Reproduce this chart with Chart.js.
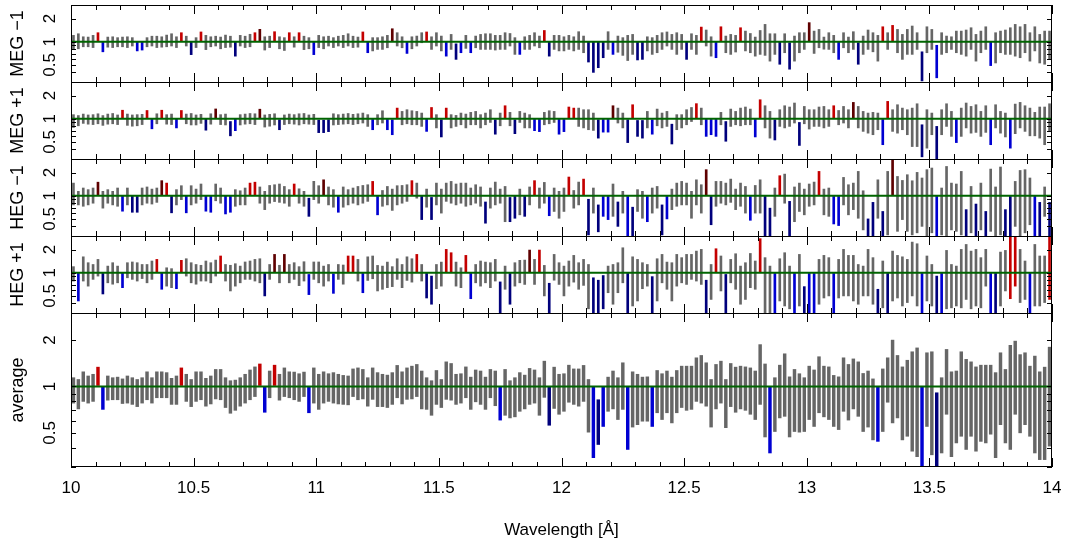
<!DOCTYPE html>
<html>
<head>
  <meta charset="utf-8">
  <title>Order ratios 10-14 A</title>
  <script src="https://cdn.jsdelivr.net/npm/chart.js@4.4.0/dist/chart.umd.min.js"></script>
  <style>
    body {
      margin: 0;
      background: #fff;
    }

    #wrap {
      position: relative;
      width: 1067px;
      height: 546px;
    }

    canvas {
      position: absolute;
      left: 0;
    }
  </style>
</head>
<body>
  <div id="wrap">
    <canvas id="megM1" width="1067" height="77" style="top:5px"></canvas>
    <canvas id="megP1" width="1067" height="77" style="top:82px"></canvas>
    <canvas id="hegM1" width="1067" height="77" style="top:159px"></canvas>
    <canvas id="hegP1" width="1067" height="77" style="top:236px"></canvas>
    <canvas id="avg" width="1067" height="233" style="top:313px"></canvas>
  </div>

  <script>
    // bin centres in Angstrom
    const wave = [
      10.01, 10.03, 10.05, 10.07, 10.09, 10.11, 10.13, 10.15, 10.17, 10.19, 10.21, 10.23, 10.25, 10.27, 10.29, 10.31, 10.33, 10.35, 10.37, 10.39, 10.41, 10.43, 10.45, 10.47, 10.49,
      10.51, 10.53, 10.55, 10.57, 10.59, 10.61, 10.63, 10.65, 10.67, 10.69, 10.71, 10.73, 10.75, 10.77, 10.79, 10.81, 10.83, 10.85, 10.87, 10.89, 10.91, 10.93, 10.95, 10.97, 10.99,
      11.01, 11.03, 11.05, 11.07, 11.09, 11.11, 11.13, 11.15, 11.17, 11.19, 11.21, 11.23, 11.25, 11.27, 11.29, 11.31, 11.33, 11.35, 11.37, 11.39, 11.41, 11.43, 11.45, 11.47, 11.49,
      11.51, 11.53, 11.55, 11.57, 11.59, 11.61, 11.63, 11.65, 11.67, 11.69, 11.71, 11.73, 11.75, 11.77, 11.79, 11.81, 11.83, 11.85, 11.87, 11.89, 11.91, 11.93, 11.95, 11.97, 11.99,
      12.01, 12.03, 12.05, 12.07, 12.09, 12.11, 12.13, 12.15, 12.17, 12.19, 12.21, 12.23, 12.25, 12.27, 12.29, 12.31, 12.33, 12.35, 12.37, 12.39, 12.41, 12.43, 12.45, 12.47, 12.49,
      12.51, 12.53, 12.55, 12.57, 12.59, 12.61, 12.63, 12.65, 12.67, 12.69, 12.71, 12.73, 12.75, 12.77, 12.79, 12.81, 12.83, 12.85, 12.87, 12.89, 12.91, 12.93, 12.95, 12.97, 12.99,
      13.01, 13.03, 13.05, 13.07, 13.09, 13.11, 13.13, 13.15, 13.17, 13.19, 13.21, 13.23, 13.25, 13.27, 13.29, 13.31, 13.33, 13.35, 13.37, 13.39, 13.41, 13.43, 13.45, 13.47, 13.49,
      13.51, 13.53, 13.55, 13.57, 13.59, 13.61, 13.63, 13.65, 13.67, 13.69, 13.71, 13.73, 13.75, 13.77, 13.79, 13.81, 13.83, 13.85, 13.87, 13.89, 13.91, 13.93, 13.95, 13.97, 13.99
    ];

    // MEG -1 ratio, lower / upper end of each bar
    const megM1Hi = [
      1.21, 1.27, 1.16, 1.15, 1.21, 1.31, 0.99, 1.15, 1.16, 1.13,
      1.15, 1.16, 1.13, 0.99, 0.99, 1.13, 1.18, 1.18, 1.16, 1.22,
      1.27, 1.16, 1.31, 1.18, 0.99, 1.13, 1.34, 1.21, 1.16, 1.18,
      1.15, 1.22, 1.18, 0.99, 1.21, 1.18, 1.25, 1.31, 1.45, 1.16,
      1.18, 1.35, 1.16, 1.13, 1.31, 1.16, 1.31, 1.18, 1.13, 0.99,
      1.21, 1.16, 1.18, 1.13, 1.18, 1.21, 1.27, 1.18, 1.15, 1.34,
      0.99, 1.13, 1.13, 1.16, 1.21, 1.475, 1.31, 1.16, 0.99, 1.16,
      1.185, 1.31, 1.34, 1.16, 1.31, 1.185, 0.99, 1.245, 0.94, 0.99,
      1.21, 0.99, 1.185, 1.245, 1.27, 1.27, 1.21, 1.21, 1.31, 1.28,
      1.13, 0.99, 1.16, 1.21, 1.31, 1.185, 1.40, 0.99, 1.21, 1.21,
      1.16, 1.21, 1.16, 1.35, 1.185, 0.99, 0.99, 0.99, 0.99, 1.35,
      0.99, 1.185, 1.13, 1.21, 1.245, 0.99, 0.99, 1.16, 1.13, 1.21,
      1.31, 1.34, 1.245, 1.31, 1.245, 0.99, 1.27, 1.21, 1.55, 1.42,
      1.16, 0.99, 1.565, 1.185, 1.245, 1.21, 1.52, 1.375, 1.28, 1.15,
      1.40, 1.68, 1.27, 1.27, 0.99, 1.27, 0.97, 1.185, 1.31, 1.31,
      1.77, 1.375, 1.445, 1.15, 1.31, 1.21, 0.99, 1.31, 1.15, 1.35,
      0.97, 1.185, 1.42, 1.31, 1.21, 1.565, 1.31, 1.63, 1.445, 1.245,
      1.445, 1.60, 1.31, 0.74, 1.565, 1.445, 0.90, 1.31, 1.185, 1.16,
      1.375, 1.375, 1.42, 1.52, 1.245, 1.375, 1.565, 0.99, 1.31, 1.375,
      1.42, 1.52, 1.68, 1.565, 1.68, 1.31, 1.565, 1.245, 1.375, 1.375
    ];
    const megM1Lo = [
      0.81, 0.81, 0.86, 0.86, 0.84, 1.01, 0.74, 0.85, 0.84, 0.86,
      0.86, 0.84, 0.88, 0.76, 0.78, 0.86, 0.88, 0.84, 0.85, 0.86,
      0.88, 0.84, 1.02, 0.88, 0.68, 0.84, 1.02, 0.79, 0.86, 0.88,
      0.81, 0.84, 0.85, 0.65, 0.88, 0.84, 0.86, 1.02, 1.02, 0.78,
      0.84, 1.02, 0.81, 0.77, 1.02, 0.85, 1.02, 0.79, 0.81, 0.68,
      0.84, 0.81, 0.88, 0.84, 0.88, 0.84, 0.88, 0.84, 0.85, 1.02,
      0.72, 0.76, 0.795, 0.795, 0.835, 1.02, 0.88, 0.835, 0.705, 0.81,
      0.88, 0.97, 1.02, 0.795, 0.88, 0.76, 0.65, 0.795, 0.59, 0.72,
      0.82, 0.72, 0.835, 0.795, 0.795, 0.795, 0.78, 0.795, 0.795, 0.88,
      0.685, 0.685, 0.795, 0.795, 0.88, 0.835, 1.02, 0.65, 0.795, 0.76,
      0.76, 0.795, 0.76, 0.795, 0.72, 0.545, 0.40, 0.46, 0.62, 0.795,
      0.685, 0.73, 0.665, 0.57, 0.685, 0.58, 0.59, 0.76, 0.685, 0.72,
      0.795, 0.88, 0.795, 0.685, 0.795, 0.59, 0.795, 0.685, 1.02, 0.88,
      0.65, 0.62, 1.02, 0.72, 0.685, 0.735, 1.02, 0.76, 0.72, 0.65,
      0.685, 0.665, 0.56, 0.685, 0.51, 0.72, 0.44, 0.56, 0.72, 0.795,
      1.02, 0.705, 0.835, 0.80, 0.795, 0.72, 0.59, 0.835, 0.72, 0.795,
      0.51, 0.685, 0.795, 0.74, 0.56, 1.02, 0.795, 1.02, 0.72, 0.59,
      0.685, 0.685, 0.795, 0.31, 0.72, 0.795, 0.34, 0.685, 0.72, 0.795,
      0.72, 0.685, 0.65, 0.795, 0.56, 0.72, 0.795, 0.49, 0.53, 0.72,
      0.685, 0.685, 0.65, 0.62, 0.72, 0.56, 0.76, 0.53, 0.51, 0.59
    ];
    const megM1Red = [5, 22, 26, 37, 41, 44, 46, 59, 72, 96, 128, 132, 136, 165, 167];
    const megM1DarkRed = [38, 65, 150];
    const megM1Blue = [6, 13, 14, 49, 60, 68, 76, 79, 81, 91, 110, 131, 156, 176, 187];
    const megM1DarkBlue = [24, 33, 78, 97, 105, 106, 107, 108, 115, 116, 125, 144, 146, 160, 173];

    // MEG +1
    const megP1Hi = [
      1.13, 1.10, 1.15, 1.12, 1.13, 1.16, 1.10, 1.15, 1.17, 1.12,
      1.29, 1.15, 1.12, 1.13, 1.14, 1.28, 0.99, 1.16, 1.29, 1.13,
      1.15, 0.99, 1.28, 1.15, 1.17, 1.12, 1.14, 0.99, 1.16, 1.34,
      1.13, 1.15, 0.92, 0.99, 1.13, 1.15, 1.17, 1.16, 1.33, 1.12,
      1.14, 1.16, 0.97, 1.12, 1.15, 1.13, 1.16, 1.17, 1.12, 1.14,
      0.96, 0.96, 0.97, 1.16, 1.13, 1.15, 1.17, 1.14, 1.16, 1.185,
      1.13, 0.98, 1.13, 1.27, 0.98, 0.97, 1.375, 1.245, 1.31, 1.27,
      1.245, 1.185, 0.98, 1.40, 1.13, 0.97, 1.375, 1.13, 1.105, 1.185,
      1.15, 1.21, 1.245, 1.13, 1.185, 1.31, 0.97, 1.185, 1.475, 1.21,
      0.97, 1.245, 1.185, 1.13, 0.98, 0.98, 1.21, 1.27, 1.245, 0.98,
      0.98, 1.42, 1.375, 1.375, 1.31, 1.31, 1.185, 0.97, 0.98, 0.98,
      1.475, 1.375, 1.185, 0.97, 1.52, 0.95, 0.95, 1.245, 0.97, 1.335,
      1.185, 1.245, 0.85, 1.13, 1.13, 1.31, 1.40, 1.57, 1.375, 0.98,
      0.98, 0.98, 1.21, 0.92, 1.335, 1.245, 1.375, 1.42, 1.335, 0.98,
      1.765, 1.475, 1.245, 0.97, 1.31, 1.475, 1.42, 1.60, 0.895, 1.445,
      1.31, 1.31, 1.42, 1.445, 1.31, 1.475, 1.28, 1.445, 1.31, 1.63,
      1.445, 1.245, 1.185, 1.21, 1.185, 0.98, 1.68, 1.31, 1.52, 1.375,
      1.31, 1.375, 1.565, 0.835, 1.31, 1.185, 0.795, 1.31, 1.565, 1.245,
      0.98, 1.375, 1.60, 1.445, 1.52, 1.245, 1.475, 0.98, 1.52, 1.245,
      1.185, 0.98, 1.55, 1.63, 1.475, 1.375, 1.21, 1.42, 1.42, 1.565
    ];
    const megP1Lo = [
      0.77, 0.81, 0.87, 0.85, 0.84, 0.86, 0.82, 0.85, 0.86, 0.84,
      1.01, 0.82, 0.80, 0.81, 0.84, 1.01, 0.74, 0.86, 1.01, 0.85,
      0.84, 0.76, 1.01, 0.86, 0.83, 0.83, 0.87, 0.71, 0.85, 1.01,
      0.84, 0.83, 0.60, 0.70, 0.83, 0.85, 0.86, 0.84, 1.01, 0.78,
      0.80, 0.83, 0.72, 0.84, 0.86, 0.85, 0.83, 0.86, 0.85, 0.84,
      0.66, 0.66, 0.68, 0.83, 0.84, 0.85, 0.86, 0.84, 0.86, 0.88,
      0.795, 0.72, 0.835, 0.88, 0.72, 0.62, 1.02, 0.835, 0.86, 0.835,
      0.835, 0.795, 0.685, 1.02, 0.76, 0.58, 1.02, 0.76, 0.795, 0.835,
      0.76, 0.835, 0.835, 0.76, 0.835, 0.895, 0.63, 0.81, 1.02, 0.81,
      0.64, 0.895, 0.76, 0.76, 0.70, 0.68, 0.835, 0.86, 0.895, 0.63,
      0.68, 1.02, 1.02, 0.795, 0.76, 0.72, 0.705, 0.56, 0.67, 0.67,
      1.02, 0.88, 0.76, 0.49, 1.02, 0.59, 0.56, 0.76, 0.63, 0.81,
      0.76, 0.795, 0.47, 0.72, 0.76, 0.835, 0.92, 1.02, 0.835, 0.59,
      0.62, 0.59, 0.835, 0.51, 0.795, 0.835, 0.81, 0.835, 0.835, 0.58,
      1.02, 0.76, 0.56, 0.53, 0.795, 0.76, 0.795, 0.88, 0.45, 0.86,
      0.735, 0.795, 0.795, 0.76, 0.795, 1.02, 0.835, 0.88, 0.76, 1.02,
      0.76, 0.685, 0.65, 0.62, 0.72, 0.46, 1.02, 0.685, 0.65, 0.72,
      0.62, 0.435, 0.435, 0.32, 0.415, 0.62, 0.30, 0.62, 0.795, 0.59,
      0.49, 0.59, 0.76, 0.65, 0.665, 0.59, 0.665, 0.46, 0.76, 0.65,
      0.58, 0.415, 0.64, 0.76, 0.685, 0.60, 0.60, 0.56, 0.46, 0.685
    ];
    const megP1Red = [10, 15, 18, 22, 66, 73, 76, 88, 101, 102, 114, 127, 140, 155, 166];
    const megP1DarkRed = [29, 38, 110, 159];
    const megP1Blue = [16, 21, 33, 61, 64, 65, 72, 94, 95, 99, 100, 108, 109, 118, 129, 130, 131, 139, 165, 180, 187, 191];
    const megP1DarkBlue = [27, 32, 42, 50, 51, 52, 75, 86, 90, 107, 113, 115, 116, 122, 133, 143, 148, 173, 176];

    // HEG -1
    const hegM1Hi = [
      1.46, 1.14, 1.26, 1.20, 1.26, 1.50, 1.14, 1.20, 1.14, 1.26,
      0.99, 1.26, 0.99, 0.98, 1.26, 1.30, 1.22, 1.26, 1.57, 1.46,
      0.98, 1.20, 1.35, 0.99, 1.35, 1.22, 1.42, 0.99, 0.99, 1.42,
      1.26, 0.99, 0.99, 1.20, 1.16, 1.26, 1.46, 1.50, 1.30, 1.14,
      1.36, 1.39, 1.42, 1.32, 1.20, 1.42, 1.23, 1.14, 0.93, 1.54,
      1.35, 1.61, 1.30, 1.20, 0.99, 1.30, 1.20, 1.26, 1.32, 1.36,
      1.39, 1.535, 0.98, 1.17, 1.32, 1.22, 1.35, 1.36, 1.39, 1.57,
      1.46, 0.98, 1.22, 0.95, 1.46, 1.22, 1.46, 1.535, 1.42, 1.46,
      1.46, 1.26, 1.39, 1.30, 0.83, 1.26, 1.505, 1.22, 1.32, 0.95,
      0.98, 1.22, 0.98, 1.30, 1.57, 1.26, 1.49, 0.98, 1.26, 1.14,
      1.26, 1.75, 1.17, 1.505, 1.645, 0.90, 1.26, 0.76, 0.98, 0.98,
      1.42, 0.83, 1.14, 0.98, 0.71, 1.20, 1.14, 0.98, 1.26, 1.32,
      0.76, 0.98, 1.22, 1.46, 1.535, 1.46, 1.14, 1.61, 1.39, 2.18,
      0.98, 1.535, 1.535, 1.46, 1.645, 1.22, 1.46, 1.32, 0.98, 1.36,
      1.61, 0.98, 0.69, 1.26, 1.82, 1.91, 0.845, 1.30, 1.46, 1.22,
      1.42, 1.505, 2.07, 1.22, 1.26, 0.98, 0.98, 1.73, 1.39, 1.46,
      2.07, 1.16, 0.50, 0.82, 1.61, 0.625, 2.07, 3.0, 1.78, 1.58,
      1.875, 1.565, 2.01, 1.70, 2.18, 2.29, 0.98, 1.26, 2.40, 1.46,
      1.42, 2.07, 0.66, 1.32, 0.78, 1.46, 0.625, 2.22, 1.30, 2.36,
      0.66, 0.98, 1.535, 2.13, 2.18, 1.70, 0.98, 0.82, 1.30, 0.82
    ];
    const hegM1Lo = [
      0.76, 0.76, 0.73, 0.76, 0.80, 1.01, 0.69, 0.80, 0.76, 0.73,
      0.63, 0.76, 0.61, 0.61, 0.76, 0.80, 0.78, 0.82, 1.01, 1.01,
      0.60, 0.76, 0.89, 0.60, 0.76, 0.80, 0.89, 0.63, 0.61, 0.86,
      0.80, 0.58, 0.61, 0.73, 0.76, 0.76, 1.01, 1.01, 0.80, 0.66,
      0.80, 0.84, 0.82, 0.80, 0.73, 1.01, 0.80, 0.73, 0.54, 0.89,
      0.80, 1.01, 0.76, 0.71, 0.61, 0.71, 0.76, 0.80, 0.76, 0.80,
      0.845, 1.02, 0.565, 0.73, 0.76, 0.645, 0.76, 0.80, 0.845, 1.02,
      0.93, 0.49, 0.71, 0.49, 0.76, 0.595, 0.845, 0.80, 0.76, 0.80,
      0.73, 0.76, 0.80, 0.73, 0.44, 0.69, 0.76, 0.80, 0.46, 0.46,
      0.51, 0.565, 0.54, 0.76, 1.02, 0.69, 0.80, 0.55, 0.625, 0.51,
      0.625, 1.02, 0.69, 0.76, 1.02, 0.31, 0.595, 0.34, 0.54, 0.49,
      0.54, 0.40, 0.595, 0.30, 0.29, 0.625, 0.51, 0.46, 0.595, 0.69,
      0.31, 0.50, 0.66, 0.73, 0.76, 0.76, 0.51, 0.76, 0.595, 1.02,
      0.42, 0.73, 0.80, 0.76, 0.82, 0.66, 0.73, 0.595, 0.48, 0.595,
      0.595, 0.30, 0.30, 0.54, 1.02, 0.80, 0.30, 0.46, 0.625, 0.565,
      0.73, 0.76, 1.02, 0.565, 0.54, 0.43, 0.41, 0.76, 0.565, 0.66,
      0.51, 0.36, 0.29, 0.29, 0.51, 0.29, 0.31, 1.02, 0.345, 0.49,
      0.345, 0.31, 0.33, 0.40, 0.29, 0.33, 0.29, 0.31, 0.29, 0.36,
      0.345, 0.31, 0.29, 0.33, 0.29, 0.36, 0.29, 0.345, 0.29, 0.31,
      0.29, 0.29, 0.40, 0.29, 0.33, 0.42, 0.29, 0.29, 0.54, 0.29
    ];
    const hegM1Red = [19, 36, 37, 45, 61, 69, 94, 101, 104, 144, 152];
    const hegM1DarkRed = [5, 18, 51, 129, 167];
    const hegM1Blue = [10, 23, 27, 28, 31, 32, 54, 62, 97, 108, 109, 113, 117, 121, 138, 155, 156, 176, 196];
    const hegM1DarkBlue = [12, 13, 20, 48, 71, 73, 84, 89, 90, 92, 105, 107, 111, 114, 120, 130, 141, 142, 146, 162, 163, 165, 182, 184, 186, 190, 191, 197, 199];

    // HEG +1
    const hegP1Hi = [
      1.20, 0.99, 1.61, 1.35, 1.28, 1.49, 0.98, 1.22, 1.35, 1.22,
      0.99, 1.35, 1.38, 1.35, 1.28, 1.28, 1.42, 1.49, 0.99, 1.16,
      1.13, 0.99, 1.45, 1.52, 1.35, 1.28, 1.25, 1.42, 1.35, 1.46,
      1.65, 1.28, 1.25, 1.31, 1.22, 1.38, 1.42, 1.49, 1.52, 0.98,
      1.28, 1.73, 1.25, 1.73, 1.28, 1.35, 1.20, 1.39, 0.95, 1.38,
      1.38, 1.22, 1.28, 0.97, 1.28, 1.26, 1.65, 1.65, 1.49, 0.98,
      1.61, 1.65, 1.245, 1.22, 1.375, 1.20, 1.52, 1.28, 1.61, 1.52,
      1.73, 1.28, 0.98, 0.905, 1.28, 1.375, 2.01, 1.82, 1.375, 1.16,
      1.68, 0.98, 1.28, 1.42, 1.375, 1.35, 1.49, 0.76, 1.22, 0.98,
      1.35, 1.45, 1.46, 1.97, 1.49, 1.97, 1.245, 0.73, 1.73, 1.35,
      1.22, 1.42, 1.68, 1.35, 1.49, 1.28, 0.86, 0.80, 0.92, 1.22,
      1.28, 1.35, 2.11, 0.98, 1.61, 1.49, 1.35, 1.28, 0.89, 1.52,
      1.73, 1.375, 1.35, 1.73, 1.57, 1.73, 1.73, 1.91, 2.01, 0.80,
      1.28, 2.05, 1.65, 0.95, 1.49, 1.765, 1.22, 1.35, 1.78, 1.42,
      2.77, 1.57, 1.22, 0.98, 1.52, 1.82, 1.22, 0.98, 1.73, 0.66,
      0.98, 0.98, 1.49, 1.68, 1.57, 0.98, 1.49, 2.01, 1.68, 1.68,
      1.28, 1.22, 2.01, 1.57, 0.61, 1.42, 0.98, 1.91, 1.68, 1.61,
      1.49, 2.50, 2.38, 0.98, 1.65, 1.28, 0.905, 0.98, 1.95, 1.28,
      1.22, 2.01, 2.33, 1.91, 2.01, 1.57, 2.01, 0.98, 0.98, 1.855,
      1.95, 3.0, 3.0, 2.01, 1.42, 0.98, 2.33, 1.65, 1.65, 3.0
    ];
    const hegP1Lo = [
      0.78, 0.43, 0.78, 0.67, 0.82, 0.905, 0.53, 0.74, 0.71, 0.74,
      0.64, 0.86, 0.82, 0.78, 0.84, 0.74, 0.82, 1.02, 0.61, 0.67,
      0.64, 0.62, 1.02, 0.905, 0.74, 0.71, 0.78, 0.78, 0.74, 0.905,
      1.02, 0.78, 0.58, 0.67, 0.74, 0.82, 0.82, 0.78, 0.74, 0.50,
      0.82, 1.02, 0.74, 1.02, 0.74, 0.82, 0.68, 0.78, 0.52, 0.82,
      0.74, 0.67, 0.78, 0.54, 0.82, 0.71, 1.02, 1.02, 0.78, 0.55,
      0.795, 0.835, 0.58, 0.61, 0.64, 0.66, 0.82, 0.64, 0.795, 0.755,
      1.02, 0.78, 0.47, 0.39, 0.62, 0.67, 1.02, 1.02, 0.67, 0.64,
      1.02, 0.46, 0.74, 0.67, 0.74, 0.64, 0.78, 0.30, 0.61, 0.39,
      0.67, 0.74, 0.705, 1.02, 0.705, 1.02, 0.50, 0.295, 0.80, 0.705,
      0.50, 0.67, 0.755, 0.61, 0.685, 0.34, 0.295, 0.295, 0.34, 0.55,
      0.39, 0.55, 0.74, 0.295, 0.37, 0.43, 0.62, 0.67, 0.295, 0.43,
      0.74, 0.61, 0.43, 0.67, 0.74, 0.705, 0.82, 0.78, 0.705, 0.30,
      0.45, 1.02, 0.58, 0.30, 0.74, 0.61, 0.39, 0.45, 0.64, 0.61,
      1.02, 0.30, 0.30, 0.30, 0.43, 0.37, 0.34, 0.30, 0.37, 0.30,
      0.30, 0.30, 0.39, 0.47, 0.50, 0.30, 0.47, 0.50, 0.50, 0.43,
      0.39, 0.50, 0.50, 0.39, 0.30, 0.35, 0.30, 0.43, 0.47, 0.37,
      0.41, 0.50, 0.37, 0.30, 0.43, 0.37, 0.30, 0.30, 0.34, 0.35,
      0.37, 0.35, 0.45, 0.34, 0.37, 0.35, 0.67, 0.30, 0.30, 0.37,
      0.58, 0.46, 0.67, 0.41, 0.45, 0.30, 0.37, 0.37, 0.41, 0.45
    ];
    const hegP1Red = [17, 22, 30, 56, 57, 70, 76, 77, 80, 95, 131, 140, 191, 192, 199];
    const hegP1DarkRed = [41, 43, 93];
    const hegP1Blue = [1, 10, 18, 21, 48, 53, 59, 81, 143, 147, 150, 151, 155, 173, 177, 187, 195];
    const hegP1DarkBlue = [6, 39, 72, 73, 87, 89, 97, 106, 107, 108, 113, 118, 129, 133, 149, 164, 166, 176, 188];

    // average of the four orders
    const avgHi = [
      1.14, 1.11, 1.245, 1.17, 1.20, 1.335, 0.99, 1.17, 1.14, 1.15,
      1.12, 1.17, 1.14, 1.11, 1.14, 1.245, 1.14, 1.245, 1.245, 1.23,
      1.13, 1.17, 1.32, 1.20, 1.11, 1.245, 1.245, 1.13, 1.17, 1.29,
      1.29, 1.14, 1.09, 1.10, 1.14, 1.20, 1.28, 1.34, 1.40, 0.99,
      1.26, 1.375, 1.20, 1.32, 1.245, 1.24, 1.21, 1.24, 0.99, 1.32,
      1.20, 1.245, 1.21, 1.23, 1.20, 1.18, 1.17, 1.30, 1.32, 1.29,
      1.14, 1.32, 1.23, 1.20, 1.185, 1.23, 1.37, 1.245, 1.32, 1.355,
      1.39, 1.26, 1.14, 1.09, 1.27, 1.11, 1.445, 1.41, 1.20, 1.21,
      1.34, 1.15, 1.28, 1.26, 1.15, 1.29, 1.26, 0.99, 1.29, 1.09,
      1.14, 1.23, 1.185, 1.31, 1.28, 1.14, 1.46, 0.99, 1.335, 1.20,
      1.21, 1.375, 1.30, 1.30, 1.37, 1.11, 0.99, 0.82, 0.99, 1.15,
      1.26, 1.14, 1.425, 0.99, 1.245, 1.20, 1.15, 1.155, 0.99, 1.27,
      1.21, 1.26, 1.15, 1.27, 1.355, 1.355, 1.355, 1.535, 1.59, 1.425,
      1.11, 1.39, 1.46, 1.11, 1.41, 1.335, 1.355, 1.34, 1.32, 1.26,
      1.87, 1.40, 0.99, 1.14, 1.375, 1.63, 1.155, 1.29, 1.21, 1.14,
      1.355, 1.28, 1.56, 1.355, 1.34, 1.18, 1.155, 1.535, 1.39, 1.51,
      1.445, 1.215, 1.26, 1.12, 0.99, 1.30, 1.535, 2.0, 1.59, 1.34,
      1.48, 1.68, 1.78, 0.99, 1.655, 1.68, 0.91, 1.14, 1.74, 1.245,
      1.26, 1.68, 1.50, 1.445, 1.34, 1.375, 1.375, 1.375, 1.23, 1.655,
      1.29, 1.85, 1.97, 1.61, 1.655, 1.355, 1.575, 1.245, 1.335, 1.80
    ];
    const avgLo = [
      0.78, 0.715, 0.80, 0.78, 0.80, 1.015, 0.71, 0.815, 0.82, 0.82,
      0.775, 0.78, 0.765, 0.74, 0.78, 0.82, 0.78, 0.845, 0.845, 0.845,
      0.765, 0.765, 1.015, 0.80, 0.74, 0.80, 0.82, 0.745, 0.77, 0.83,
      0.82, 0.73, 0.67, 0.70, 0.745, 0.78, 0.82, 0.86, 1.015, 0.68,
      0.845, 1.015, 0.815, 0.86, 0.845, 0.82, 0.80, 0.86, 0.675, 0.78,
      0.71, 0.78, 0.80, 0.78, 0.77, 0.765, 0.76, 0.86, 0.82, 0.83,
      0.745, 0.825, 0.74, 0.74, 0.73, 0.765, 0.845, 0.77, 0.825, 0.83,
      0.86, 0.715, 0.71, 0.65, 0.765, 0.73, 0.825, 0.815, 0.765, 0.78,
      0.845, 0.71, 0.795, 0.765, 0.71, 0.845, 0.75, 0.605, 0.65, 0.625,
      0.635, 0.69, 0.715, 0.765, 0.78, 0.65, 0.85, 0.56, 0.72, 0.66,
      0.69, 0.79, 0.765, 0.745, 0.80, 0.505, 0.345, 0.42, 0.55, 0.69,
      0.715, 0.61, 0.71, 0.39, 0.545, 0.565, 0.595, 0.595, 0.55, 0.675,
      0.61, 0.675, 0.58, 0.675, 0.73, 0.70, 0.71, 0.80, 0.78, 0.745,
      0.545, 0.715, 0.78, 0.54, 0.74, 0.68, 0.715, 0.70, 0.66, 0.61,
      0.765, 0.47, 0.37, 0.51, 0.625, 0.64, 0.47, 0.51, 0.505, 0.51,
      0.61, 0.55, 0.675, 0.635, 0.61, 0.55, 0.525, 0.69, 0.605, 0.715,
      0.64, 0.51, 0.545, 0.45, 0.44, 0.51, 0.79, 0.58, 0.625, 0.45,
      0.475, 0.38, 0.35, 0.30, 0.55, 0.36, 0.29, 0.37, 0.66, 0.35,
      0.43, 0.475, 0.39, 0.475, 0.38, 0.44, 0.43, 0.49, 0.345, 0.565,
      0.43, 0.39, 0.66, 0.50, 0.565, 0.475, 0.37, 0.335, 0.335, 0.41
    ];
    const avgRed = [5, 22, 38, 41];
    const avgDarkRed = [];
    const avgBlue = [6, 39, 48, 87, 106, 108, 113, 118, 142, 164, 173];
    const avgDarkBlue = [97, 107, 176];

    // axis ticks
    const yTicks = [0.3, 0.4, 0.5, 0.6, 0.7, 0.8, 0.9, 1, 2, 3];
    const yLabeled = [0.5, 1, 2];
    const xMajor = [10, 10.5, 11, 11.5, 12, 12.5, 13, 13.5, 14];
    const xTicks = [
      10, 10.1, 10.2, 10.3, 10.4, 10.5, 10.6, 10.7, 10.8, 10.9,
      11, 11.1, 11.2, 11.3, 11.4, 11.5, 11.6, 11.7, 11.8, 11.9,
      12, 12.1, 12.2, 12.3, 12.4, 12.5, 12.6, 12.7, 12.8, 12.9,
      13, 13.1, 13.2, 13.3, 13.4, 13.5, 13.6, 13.7, 13.8, 13.9, 14
    ];

    const GREY = '#666666';
    const RED = '#c40000';
    const DARK_RED = '#5e0000';
    const BLUE = '#0000d2';
    const DARK_BLUE = '#00007c';
    const GREEN = '#006400';
    const FONT = '"Liberation Sans", Arial, Helvetica, sans-serif';

    Chart.defaults.font.family = FONT;
    Chart.defaults.color = '#000';

    // R style box with inward ticks on all four sides
    const boxTicks = {
      id: 'boxTicks',
      afterDatasetsDraw(chart, args, opts) {
        const { ctx, chartArea: a, scales: { x, y } } = chart;
        const L = Math.round(a.left) + 0.5;
        const R = Math.round(a.right) - 0.5;
        const T = Math.round(a.top) + 0.5;
        const B = Math.round(a.bottom) - 0.5;
        ctx.save();
        ctx.strokeStyle = '#000';
        ctx.lineWidth = 1;
        ctx.beginPath();
        ctx.moveTo(L, T); ctx.lineTo(R, T);
        ctx.moveTo(L, a.top); ctx.lineTo(L, a.bottom);
        ctx.moveTo(R, a.top); ctx.lineTo(R, a.bottom);
        if (opts.bottom) { ctx.moveTo(L, B); ctx.lineTo(R, B); }
        xTicks.forEach(v => {
          const px = Math.round(x.getPixelForValue(v)) + 0.5;
          const len = xMajor.includes(v) ? 9 : 5;
          ctx.moveTo(px, a.top); ctx.lineTo(px, a.top + len);
          ctx.moveTo(px, a.bottom); ctx.lineTo(px, a.bottom - len);
        });
        yTicks.forEach(v => {
          const py = Math.round(y.getPixelForValue(v)) + 0.5;
          ctx.moveTo(a.left, py); ctx.lineTo(a.left + 5, py);
          ctx.moveTo(a.right, py); ctx.lineTo(a.right - 5, py);
        });
        ctx.stroke();
        ctx.restore();
      }
    };

    function barColours(red, darkRed, blue, darkBlue) {
      return wave.map((w, i) => {
        if (red.includes(i)) return RED;
        if (darkRed.includes(i)) return DARK_RED;
        if (blue.includes(i)) return BLUE;
        if (darkBlue.includes(i)) return DARK_BLUE;
        return GREY;
      });
    }

    function makePanel(id, title, lo, hi, colours, last) {
      const bars = wave.map((w, i) => ({ x: w, y: [lo[i], hi[i]] }));
      return new Chart(document.getElementById(id), {
        type: 'bar',
        data: {
          datasets: [
            {
              type: 'line',
              data: [{ x: 10, y: 1 }, { x: 14, y: 1 }],
              borderColor: GREEN,
              borderWidth: 2,
              pointRadius: 0,
              order: 0
            },
            {
              type: 'bar',
              data: bars,
              backgroundColor: colours,
              barThickness: last ? 2.8 : 2,
              order: 1
            }
          ]
        },
        options: {
          responsive: false,
          animation: false,
          events: [],
          layout: { padding: { left: 0, right: 15, top: 0, bottom: 0 } },
          plugins: {
            legend: { display: false },
            tooltip: { enabled: false },
            boxTicks: { bottom: last }
          },
          scales: {
            x: {
              type: 'linear',
              min: 10,
              max: 14,
              offset: false,
              display: last,
              grid: { display: false, drawTicks: false },
              border: { display: false },
              afterBuildTicks: s => { s.ticks = xMajor.map(v => ({ value: v })); },
              afterFit: s => { s.height = last ? 79 : 0; s.paddingLeft = 0; s.paddingRight = 0; },
              ticks: {
                autoSkip: false,
                maxRotation: 0,
                padding: 11,
                font: { size: 17 },
                callback: v => String(v)
              },
              title: {
                display: true,
                text: 'Wavelength [Å]',
                font: { size: 17 },
                padding: { top: 0, bottom: 5 }
              }
            },
            y: {
              type: 'logarithmic',
              min: 0.3,
              max: 3,
              grid: { display: false, drawTicks: false },
              border: { display: false },
              afterBuildTicks: s => { s.ticks = yTicks.map(v => ({ value: v })); },
              afterFit: s => { s.width = 71; s.paddingTop = 0; s.paddingBottom = 0; },
              ticks: {
                autoSkip: false,
                minRotation: 90,
                maxRotation: 90,
                crossAlign: 'center',
                padding: 9,
                font: { size: 17 },
                callback: v => (yLabeled.includes(v) ? String(v) : null)
              },
              title: {
                display: true,
                text: title,
                font: { size: 18 },
                padding: { top: 7, bottom: 0 }
              }
            }
          }
        },
        plugins: [boxTicks]
      });
    }

    makePanel('megM1', 'MEG −1', megM1Lo, megM1Hi, barColours(megM1Red, megM1DarkRed, megM1Blue, megM1DarkBlue), false);
    makePanel('megP1', 'MEG +1', megP1Lo, megP1Hi, barColours(megP1Red, megP1DarkRed, megP1Blue, megP1DarkBlue), false);
    makePanel('hegM1', 'HEG −1', hegM1Lo, hegM1Hi, barColours(hegM1Red, hegM1DarkRed, hegM1Blue, hegM1DarkBlue), false);
    makePanel('hegP1', 'HEG +1', hegP1Lo, hegP1Hi, barColours(hegP1Red, hegP1DarkRed, hegP1Blue, hegP1DarkBlue), false);
    makePanel('avg', 'average', avgLo, avgHi, barColours(avgRed, avgDarkRed, avgBlue, avgDarkBlue), true);
  </script>
</body>
</html>
